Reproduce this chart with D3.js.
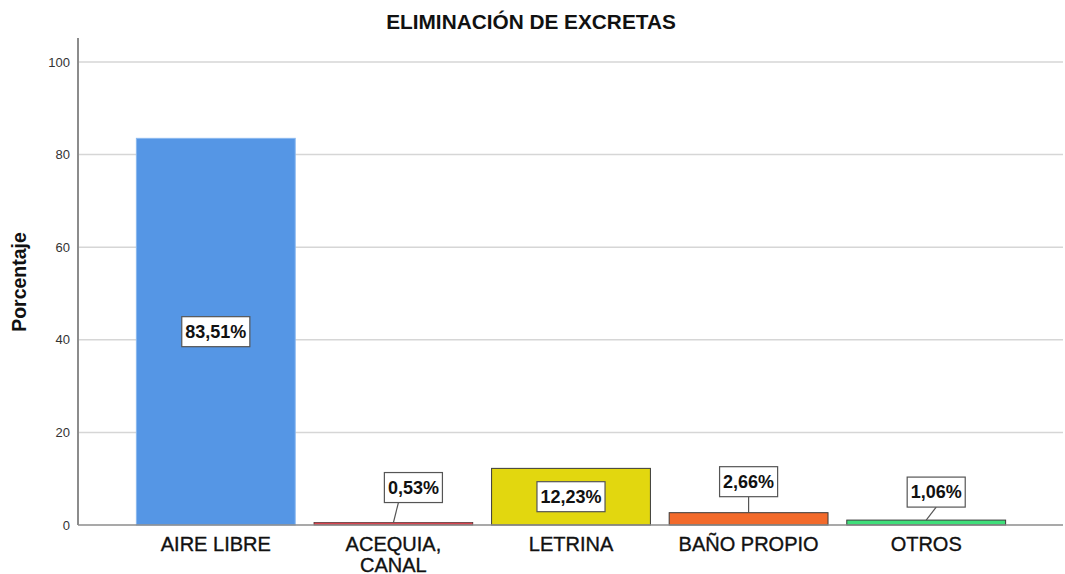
<!DOCTYPE html>
<html><head><meta charset="utf-8">
<script src="https://cdn.jsdelivr.net/npm/d3@7/dist/d3.min.js"></script>
<style>body{margin:0;background:#fff}svg{display:block;font-family:"Liberation Sans",Arial,sans-serif}</style>
</head><body><svg id="c" width="1065" height="574"></svg>
<script>
const categories = ["AIRE LIBRE", "ACEQUIA, CANAL", "LETRINA", "BAÑO PROPIO", "OTROS"];
const values = [83.51, 0.53, 12.23, 2.66, 1.06];
const labels = ["83,51%", "0,53%", "12,23%", "2,66%", "1,06%"];
const colors = ["#5596e5", "#d9434f", "#e2d70f", "#f26a2b", "#3fdf7a"];
const yTicks = [0, 20, 40, 60, 80, 100];
const title = "ELIMINACIÓN DE EXCRETAS";
const yTitle = "Porcentaje";

// layout (label placement for small bars), not data
const labelOffsets = [null, {dx: 20, dy: -35, lx: 5}, null, {dx: 0, dy: -31, lx: 0}, {dx: 10, dy: -28, lx: 10}];

const svg = d3.select("#c");
const pLeft = 78, pRight = 1063, pTop = 38, pBottom = 525;
const x = d3.scaleBand().domain(categories).range([127, 1015]).paddingInner(0.1).paddingOuter(0.05);
const y = d3.scaleLinear().domain([0, 100]).range([pBottom, 62]);

// grid
svg.append("g").selectAll("line").data(yTicks.filter(d => d > 0)).join("line")
  .attr("x1", pLeft).attr("x2", pRight).attr("y1", d => y(d)).attr("y2", d => y(d))
  .attr("stroke", "#d6d6d6").attr("stroke-width", 1.5);

// bars
svg.append("g").selectAll("rect").data(values).join("rect")
  .attr("x", (d, i) => x(categories[i]) + 0.5)
  .attr("y", d => y(d) - (i => 0)(d))
  .attr("width", x.bandwidth() - 1)
  .attr("height", d => pBottom - y(d))
  .attr("fill", (d, i) => colors[i])
  .attr("stroke", (d, i) => i === 0 ? "#8ab8ef" : (i === 1 ? "#4a2a2a" : "#3a3a3a"))
  .attr("stroke-width", (d, i) => i === 1 ? 0.7 : 1);

// axes lines
svg.append("line").attr("x1", pLeft).attr("x2", pLeft).attr("y1", pTop).attr("y2", pBottom)
  .attr("stroke", "#8c8c8c").attr("stroke-width", 2);
svg.append("line").attr("x1", pLeft).attr("x2", pRight).attr("y1", pBottom).attr("y2", pBottom)
  .attr("stroke", "#8c8c8c").attr("stroke-width", 1.5);

// y axis using d3 axis for ticks
const yAxis = svg.append("g").attr("transform", `translate(${pLeft},0)`)
  .call(d3.axisLeft(y).tickValues(yTicks).tickSize(0).tickPadding(8));
yAxis.select(".domain").remove();
yAxis.selectAll("text").attr("font-size", 13).attr("fill", "#333")
  .attr("font-family", "Liberation Sans, Arial, sans-serif");

// x labels
const xl = svg.append("g").selectAll("text").data(categories).join("text")
  .attr("x", d => x(d) + x.bandwidth() / 2)
  .attr("y", 551)
  .attr("text-anchor", "middle").attr("font-size", 20).attr("fill", "#111")
  .attr("stroke", "#111").attr("stroke-width", 0.35);
xl.each(function(d) {
  const parts = d.includes(", ") ? [d.split(", ")[0] + ",", d.split(", ")[1]] : [d];
  const t = d3.select(this);
  parts.forEach((p, k) => t.append("tspan").attr("x", x(d) + x.bandwidth() / 2).attr("dy", k === 0 ? 0 : 21).text(p));
});

// title
svg.append("text").attr("x", 531).attr("y", 29).attr("text-anchor", "middle")
  .attr("font-size", 20.8).attr("font-weight", "bold").attr("fill", "#111").text(title);
svg.append("text").attr("transform", "translate(26,282) rotate(-90)").attr("text-anchor", "middle")
  .attr("font-size", 19.5).attr("font-weight", "bold").attr("fill", "#111").text(yTitle);

// data labels
const lg = svg.append("g");
values.forEach((v, i) => {
  const cx = x(categories[i]) + x.bandwidth() / 2;
  const off = labelOffsets[i];
  let bx, by;
  if (off) {
    bx = cx + off.dx; by = y(v) + off.dy;
  } else {
    bx = cx; by = (y(v) + pBottom) / 2;
  }
  const t = lg.append("text").attr("x", bx).attr("y", by).attr("text-anchor", "middle")
    .attr("dominant-baseline", "central").attr("font-size", 18).attr("font-weight", "bold")
    .attr("fill", "#111").text(labels[i]);
  const w = t.node().getComputedTextLength() + 7, h = 30;
  if (off) {
    lg.insert("line", "text").attr("x1", cx).attr("y1", y(v)).attr("x2", cx + off.lx).attr("y2", by + h / 2)
      .attr("stroke", "#555").attr("stroke-width", 1.2);
  }
  lg.insert("rect", "text").attr("x", bx - w / 2).attr("y", by - h / 2).attr("width", w).attr("height", h)
    .attr("fill", "#fff").attr("stroke", "#555").attr("stroke-width", 1.2);
});
</script></body></html>
